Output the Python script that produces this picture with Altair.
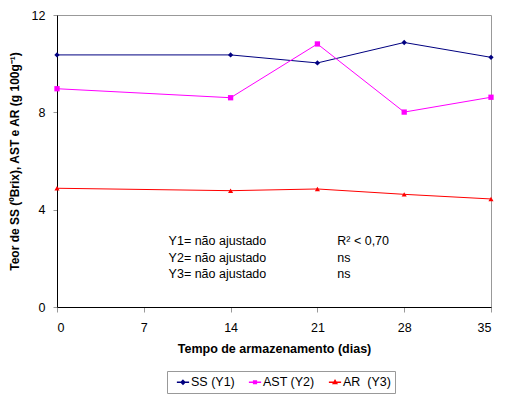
import altair as alt
import pandas as pd

days = [0, 14, 21, 28, 35]
ss = [10.36, 10.36, 10.03, 10.87, 10.26]
ast = [8.97, 8.60, 10.81, 8.01, 8.62]
ar = [4.88, 4.78, 4.85, 4.63, 4.44]
series_names = ["SS (Y1)", "AST (Y2)", "AR\u00a0 (Y3)"]
colors = ["#000080", "#FF00FF", "#FF0000"]
point_shapes = ["diamond", "square", "triangle-up"]
point_sizes = [28, 28, 26]
legend_paths = [
    "M-1,0H1M0,-0.3L0.3,0L0,0.3L-0.3,0Z",
    "M-1,0H1M-0.22,-0.22H0.22V0.22H-0.22Z",
    "M-1,0H1M0,-0.3L0.28,0.2H-0.28Z",
]

x_ticks = [0, 7, 14, 21, 28, 35]
y_ticks = [0, 4, 8, 12]

note_x = [9.0, 9.0, 9.0, 22.6, 22.6, 22.6]
note_y = [2.7, 2.02, 1.35, 2.7, 2.02, 1.35]
note_text = ["Y1= não ajustado", "Y2= não ajustado", "Y3= não ajustado",
             "R² < 0,70", "ns", "ns"]

rows = []
for name, vals in zip(series_names, [ss, ast, ar]):
    for d, v in zip(days, vals):
        rows.append({"dias": d, "valor": v, "serie": name})
df = pd.DataFrame(rows)
notes = pd.DataFrame({"x": note_x, "y": note_y, "t": note_text})

FONT = "Liberation Sans"

x_enc = alt.X("dias:Q", scale=alt.Scale(domain=[0, 35], nice=False),
              axis=alt.Axis(values=x_ticks, title="Tempo de armazenamento (dias)",
                            grid=False, domainColor="black", tickColor="#999999",
                            tickSize=5, labelPadding=9, titlePadding=9,
                            labelFontSize=12.5, titleFontSize=12.5, titleFontWeight="bold",
                            labelColor="black", titleColor="black"))
y_enc = alt.Y("valor:Q", scale=alt.Scale(domain=[0, 12], nice=False),
              axis=alt.Axis(values=y_ticks, title="Teor de SS (ºBrix), AST e AR (g 100g⁻¹)",
                            grid=False, domainColor="black", tickColor="#999999",
                            tickSize=4, labelPadding=8, titlePadding=10,
                            labelFontSize=12.5, titleFontSize=12, titleFontWeight="bold",
                            labelColor="black", titleColor="black"))
color_scale = alt.Scale(domain=series_names, range=colors)
color_enc = alt.Color("serie:N", scale=color_scale)

base = alt.Chart(df)

lines = base.mark_line(strokeWidth=1).encode(x=x_enc, y=y_enc, color=color_enc)

point_layers = []
for name, shp, sz in zip(series_names, point_shapes, point_sizes):
    point_layers.append(
        base.transform_filter(alt.datum.serie == name)
        .mark_point(filled=True, size=sz, opacity=1, shape=shp)
        .encode(x="dias:Q", y="valor:Q", color=color_enc)
    )

leg = alt.Legend(
    orient="none", legendX=110, legendY=356, direction="horizontal", title=None,
    strokeColor="#999999", padding=4, symbolSize=150, symbolOpacity=1,
    symbolStrokeWidth=1.5, symbolOffset=5, labelOffset=1, columnPadding=8,
    labelFont=FONT, labelFontSize=12.5, labelColor="black",
)
legend_layer = base.mark_point(filled=False, opacity=0).encode(
    x="dias:Q", y="valor:Q",
    color=alt.Color("serie:N", scale=color_scale, legend=leg),
    shape=alt.Shape("serie:N", scale=alt.Scale(domain=series_names, range=legend_paths), legend=leg),
)

text = alt.Chart(notes).mark_text(align="left", baseline="middle", font=FONT,
                                  fontSize=12.5, color="black").encode(
    x="x:Q", y="y:Q", text="t:N")

chart = alt.layer(lines, *point_layers, legend_layer, text).properties(
    width=434, height=292,
    autosize=alt.AutoSizeParams(type="none"),
    padding={"left": 49, "top": 7, "right": 8, "bottom": 87},
).configure(font=FONT).configure_view(stroke="#999999", strokeWidth=1)

chart.save("out.html", embed_options={"renderer": "svg", "actions": False})
